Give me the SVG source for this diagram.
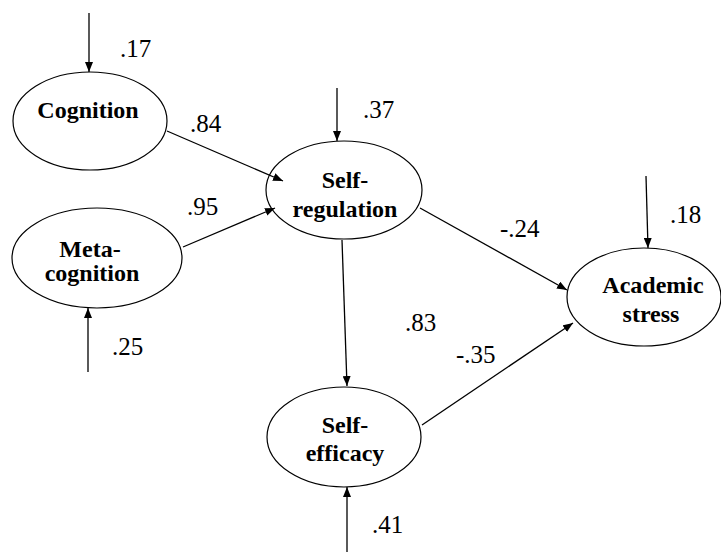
<svg xmlns="http://www.w3.org/2000/svg" width="721" height="552" viewBox="0 0 721 552">
<defs>
<marker id="ah" viewBox="0 0 10 8" refX="10" refY="4" markerWidth="10" markerHeight="8" markerUnits="userSpaceOnUse" orient="auto">
<path d="M0,0 L10,4 L0,8 Z" fill="#000"/>
</marker>
</defs>
<style>
.node ellipse{fill:#fff;stroke:#000;stroke-width:1.2}
.lbl{font-weight:bold;font-size:24px;text-anchor:middle;fill:#000}
.num{font-size:25px;fill:#000}
.conn line{stroke:#000;stroke-width:1.3;marker-end:url(#ah)}
</style>
<rect width="721" height="552" fill="#fff"/>
<g font-family="Liberation Serif, Times New Roman, DejaVu Serif, serif">
<g id="cognition" class="node">
<ellipse cx="90" cy="121" rx="77" ry="49"/>
<text class="lbl" x="88" y="118">Cognition</text>
</g>
<g id="metacognition" class="node">
<ellipse cx="97" cy="258" rx="85" ry="50"/>
<text class="lbl" x="90" y="257">Meta-</text>
<text class="lbl" x="92" y="281">cognition</text>
</g>
<g id="selfregulation" class="node">
<ellipse cx="344" cy="190" rx="78" ry="49"/>
<text class="lbl" x="345" y="188">Self-</text>
<text class="lbl" x="345" y="217">regulation</text>
</g>
<g id="selfefficacy" class="node">
<ellipse cx="344" cy="437" rx="77" ry="50"/>
<text class="lbl" x="345" y="433">Self-</text>
<text class="lbl" x="345" y="461">efficacy</text>
</g>
<g id="academicstress" class="node">
<ellipse cx="644" cy="297" rx="77" ry="49"/>
<text class="lbl" x="653" y="293">Academic</text>
<text class="lbl" x="651" y="322">stress</text>
</g>
<g id="connectors" class="conn">
<line x1="89" y1="13" x2="89" y2="72"/>
<line x1="88" y1="372" x2="88" y2="308"/>
<line x1="337" y1="88" x2="337" y2="141"/>
<line x1="646" y1="176" x2="648" y2="248"/>
<line x1="347" y1="552" x2="347" y2="487"/>
<line x1="167" y1="131" x2="283" y2="181"/>
<line x1="183" y1="247" x2="275" y2="208"/>
<line x1="420" y1="208" x2="567" y2="290"/>
<line x1="342" y1="240" x2="347" y2="386"/>
<line x1="422" y1="425" x2="573" y2="323"/>
</g>
<g id="labels">
<text class="num" x="120" y="57">.17</text>
<text class="num" x="190" y="132">.84</text>
<text class="num" x="187" y="215">.95</text>
<text class="num" x="112" y="355">.25</text>
<text class="num" x="363" y="118">.37</text>
<text class="num" x="500" y="237">-.24</text>
<text class="num" x="670" y="223">.18</text>
<text class="num" x="405" y="331">.83</text>
<text class="num" x="456" y="363">-.35</text>
<text class="num" x="372" y="533">.41</text>
</g>
</g>
</svg>
